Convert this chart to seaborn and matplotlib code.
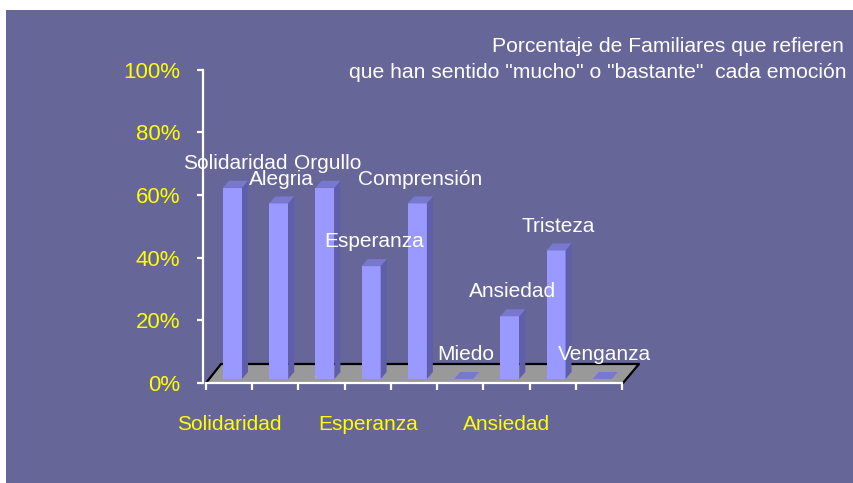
import matplotlib
matplotlib.use('Agg')
import matplotlib.pyplot as plt
import seaborn as sns
import pandas as pd
import numpy as np
from matplotlib.patches import Polygon, Rectangle
from matplotlib.lines import Line2D

# ---- data ----
categorias = ['Solidaridad', 'Alegria', 'Orgullo', 'Esperanza', 'Comprensión',
              'Miedo', 'Ansiedad', 'Tristeza', 'Venganza']
valores = [61, 56, 61, 36, 56, 0, 20, 41, 0]
tick_pos = [0, 3, 6]
tick_labels = ['Solidaridad', 'Esperanza', 'Ansiedad']
y_ticks = [0, 20, 40, 60, 80, 100]
titulo = ['Porcentaje de Familiares que refieren',
          'que han sentido "mucho" o "bastante"  cada emoción']

sns.set_theme(style='white')
plt.rcParams['font.family'] = ['Liberation Sans', 'DejaVu Sans']

BG = '#666699'
FRONT = '#9999FF'
SIDE = '#5E5EAA'
TOP = '#7878CE'
FLOOR = '#999999'
YEL = '#FFFF00'

W, H = 854, 483
fig = plt.figure(figsize=(W / 100, H / 100), dpi=100, facecolor='white')
fig.patches.append(Rectangle((6 / W, 0), 1 - 6 / W, 1 - 10 / H,
                             transform=fig.transFigure, facecolor=BG,
                             edgecolor='none', zorder=-10))
ax = fig.add_axes([206 / W, 100 / H, 416 / W, 313.5 / H])
ax.set_facecolor('none')

xpx = 9 / 416.0
ypx = 100 / 313.5

df = pd.DataFrame({'emocion': categorias, 'pct': valores})
sns.barplot(data=df, x='emocion', y='pct', color=FRONT, saturation=1,
            width=0.41, ax=ax, zorder=4, linewidth=0)
ax.set_xlim(-0.5, 8.5)
ax.set_ylim(0, 100)

# floor
fl = (-0.5, 0)
bl = (-0.5 + 15 * xpx, 19 * ypx)
br = (8.5 + 17 * xpx, 19 * ypx)
fr = (8.5 + 1 * xpx, 0)
ax.add_patch(Polygon([fl, bl, br, fr], closed=True, facecolor=FLOOR,
                     edgecolor='none', zorder=1, clip_on=False))
ax.add_line(Line2D([fl[0], bl[0], br[0], fr[0]], [fl[1], bl[1], br[1], fr[1]],
                   color='black', lw=1.6, zorder=2, clip_on=False))

# 3D faces
dx, dy = 6 * xpx, 7 * ypx
shift_x, shift_y = 3.4 * xpx, 4 * ypx
bars = list(ax.containers[0])
for i, p in enumerate(bars):
    p.set_x(p.get_x() + shift_x)
    p.set_y(p.get_y() + shift_y)
    p.set_clip_on(False)
    x0 = p.get_x(); x1 = x0 + p.get_width()
    y0 = p.get_y(); y1 = y0 + p.get_height()
    if p.get_height() > 0:
        ax.add_patch(Polygon([(x1, y0), (x1 + dx, y0 + dy), (x1 + dx, y1 + dy), (x1, y1)],
                             closed=True, facecolor=SIDE, edgecolor='none', zorder=4, clip_on=False))
    ax.add_patch(Polygon([(x0, y1), (x0 + dx, y1 + dy), (x1 + dx, y1 + dy), (x1, y1)],
                         closed=True, facecolor=TOP, edgecolor='none', zorder=4, clip_on=False))
    cx = (x0 + x1) / 2 + 2.5 * xpx
    ax.annotate(categorias[i], (cx, y1 + dy), xytext=(0, 12.5), textcoords='offset points',
                ha='center', va='center', color='white', fontsize=15, zorder=6,
                annotation_clip=False)

# axes styling
for s in ['top', 'right']:
    ax.spines[s].set_visible(False)
for s in ['left', 'bottom']:
    ax.spines[s].set_color('white')
    ax.spines[s].set_linewidth(1.6)
    ax.spines[s].set_zorder(3)
ax.spines['left'].set_position(('outward', 2))

ax.set_yticks(y_ticks, [f'{v}%' for v in y_ticks])
ax.tick_params(axis='y', which='major', left=True, color='white', length=4.5, width=1.6,
               direction='out', labelcolor=YEL, labelsize=16, pad=12)

ax.set_xticks(tick_pos, tick_labels)
ax.set_xticks(np.arange(-0.5, 9, 1), minor=True)
ax.tick_params(axis='x', which='major', length=0, labelcolor=YEL, labelsize=15, pad=23)
ax.tick_params(axis='x', which='minor', bottom=True, length=5, width=1.6, color='white',
               direction='out')
ax.set_xlabel('')
ax.set_ylabel('')
ax.grid(False)

fig.text(844 / W, 1 - 47 / H, titulo[0], ha='right', va='center', color='white', fontsize=15.2)
fig.text(847 / W, 1 - 72 / H, titulo[1], ha='right', va='center', color='white', fontsize=15.2)

fig.savefig('out.png', dpi=100, facecolor=fig.get_facecolor())
